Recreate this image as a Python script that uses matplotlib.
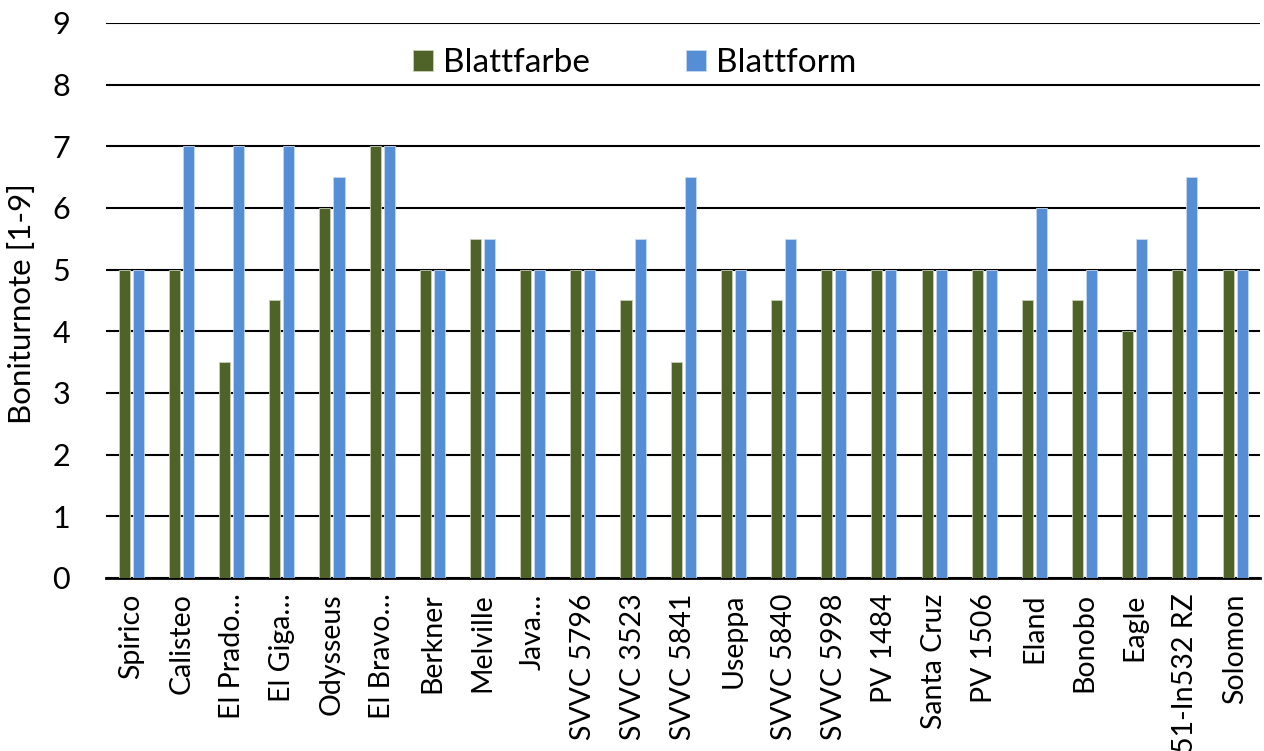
import numpy as np
import matplotlib
matplotlib.use("Agg")
import matplotlib.pyplot as plt

plt.rcParams['font.family'] = ['Lato', 'DejaVu Sans']

sorten = ['Spirico', 'Calisteo', 'El Prado…', 'El Giga…', 'Odysseus', 'El Bravo…',
          'Berkner', 'Melville', 'Java…', 'SVVC 5796', 'SVVC 3523', 'SVVC 5841',
          'Useppa', 'SVVC 5840', 'SVVC 5998', 'PV 1484', 'Santa Cruz', 'PV 1506',
          'Eland', 'Bonobo', 'Eagle', '51-In532 RZ', 'Solomon']
blattfarbe = [5, 5, 3.5, 4.5, 6, 7, 5, 5.5, 5, 5, 4.5, 3.5,
              5, 4.5, 5, 5, 5, 5, 4.5, 4.5, 4, 5, 5]
blattform = [5, 7, 7, 7, 6.5, 7, 5, 5.5, 5, 5, 5.5, 6.5,
             5, 5.5, 5, 5, 5, 5, 6, 5, 5.5, 6.5, 5]

fig = plt.figure(figsize=(12.64, 7.51), dpi=100)
ax = fig.add_axes([0.084, 0.2304, 0.913, 0.739])

x = np.arange(len(sorten))
w = 0.22
ax.bar(x - 0.14, blattfarbe, w, color='#4F6228', edgecolor='#c8d0b8', linewidth=0.6,
       label='Blattfarbe', zorder=3)
ax.bar(x + 0.14, blattform, w, color='#558ED5', edgecolor='#c6d9f1', linewidth=0.6,
       label='Blattform', zorder=3)

ax.set_xlim(-0.5, len(sorten) - 0.5)
ax.set_ylim(0, 9)
ax.set_yticks(range(0, 10))
ax.yaxis.grid(True, color='black', linewidth=1.5, zorder=0)
ax.tick_params(axis='y', length=0, labelsize=22, pad=26)
ax.tick_params(axis='x', length=0, labelsize=20.5, pad=11)
ax.set_xticks(x)
ax.set_xticklabels(sorten, rotation=90)
for s in ['top', 'right', 'left']:
    ax.spines[s].set_visible(False)
ax.spines['bottom'].set_linewidth(2)
ax.set_ylabel('Boniturnote [1-9]', fontsize=22.5, va='center')
ax.yaxis.set_label_coords(-0.073, 0.495)

ax.legend(loc='center', bbox_to_anchor=(0.458, 0.928), ncol=2, frameon=False,
          fontsize=24, handlelength=0.6, handleheight=0.6, handletextpad=0.3,
          columnspacing=2.9)

fig.savefig('out.png', dpi=100)
